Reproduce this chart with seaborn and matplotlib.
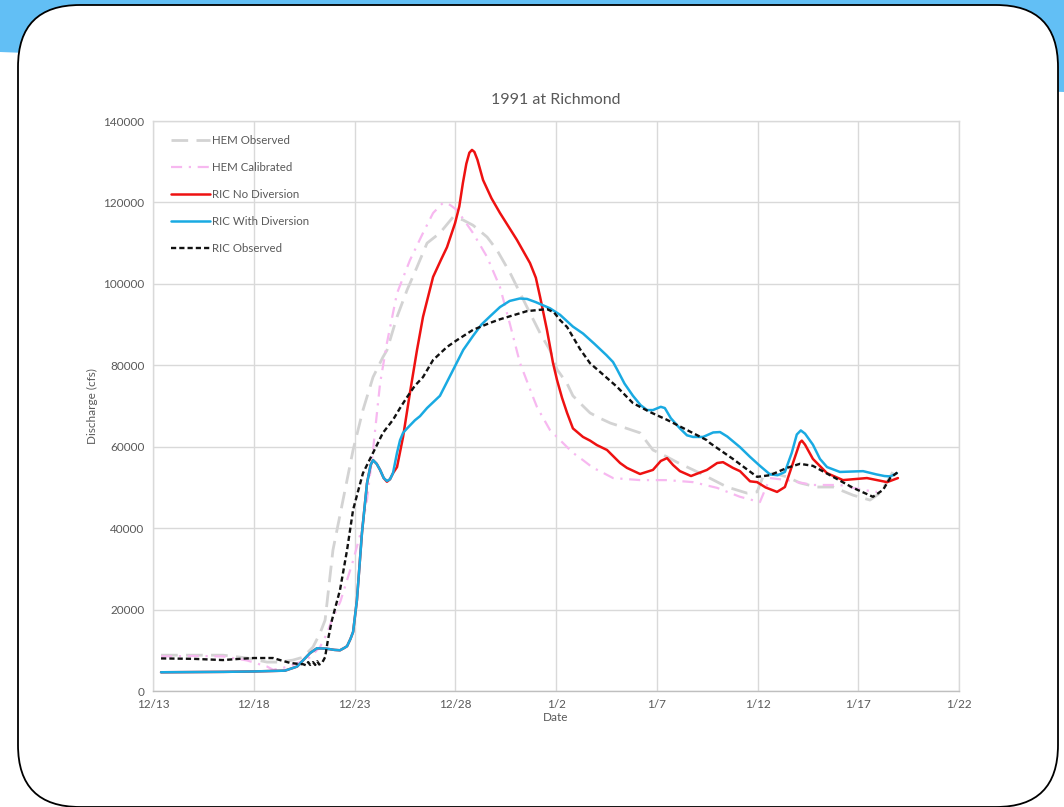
import numpy as np
import pandas as pd
import matplotlib
matplotlib.use("Agg")
import matplotlib.pyplot as plt
import matplotlib.dates as mdates
from matplotlib.patches import FancyBboxPatch, Polygon
from matplotlib.ticker import FuncFormatter, FixedLocator
import seaborn as sns

# ---------------- data (days after 12/13/1990, discharge cfs) ----------------
start_date = "1990-12-13"
x_tick_days = [0, 5, 10, 15, 20, 25, 30, 35, 40]
y_ticks = [0, 20000, 40000, 60000, 80000, 100000, 120000, 140000]

hem_obs_days = [0.40, 2.0, 3.47, 4.0, 4.67, 5.66, 6.3, 6.95, 7.44, 7.94, 8.29, 8.54, 8.93, 9.43, 9.93,
                10.42, 10.92, 11.41, 11.61, 12.11, 12.61, 13.1, 13.6, 14.24, 14.89, 15.38, 15.88, 16.58,
                17.07, 17.72, 18.56, 19.21, 19.7, 20.05, 20.55, 20.84, 21.34, 21.69, 22.18, 22.7, 23.33,
                24.17, 24.81, 25.51, 26.0, 27.15, 28.49, 29.48, 29.98, 30.27, 30.77, 31.46, 32.11, 32.95,
                33.75, 34.74, 35.58, 36.08, 36.58, 36.82]
hem_obs_q = [8800, 8800, 8800, 8500, 8100, 7100, 7100, 7600, 8300, 10800, 14200, 17400, 34600, 46900, 59200,
             69000, 77100, 82000, 83700, 91900, 98500, 104100, 110000, 112500, 116400, 115700, 114400, 111500,
             108300, 102700, 94300, 87900, 83700, 79000, 75500, 72500, 70000, 68300, 67000, 65800, 64800,
             63400, 59200, 57500, 56200, 53500, 50100, 48600, 48900, 52600, 53500, 52600, 51100, 50100,
             50100, 48100, 46900, 48600, 52600, 54800]

hem_cal_days = [0.40, 2.0, 3.47, 4.67, 5.66, 5.96, 6.65, 7.3, 7.79, 8.29, 8.64, 8.88, 9.3, 9.93, 10.37,
                10.62, 10.92, 11.27, 11.61, 12.11, 12.75, 13.4, 13.9, 14.39, 14.74, 15.09, 15.88, 16.58,
                17.22, 17.72, 18.21, 18.86, 19.06, 19.7, 20.55, 20.84, 21.34, 21.84, 22.18, 22.83, 24.17,
                25.51, 26.8, 27.99, 29.13, 30.12, 30.37, 30.62, 31.46, 32.75, 34.09, 35.24, 35.93]
hem_cal_q = [8500, 8600, 8500, 7500, 6000, 5200, 5900, 7100, 8300, 10800, 14200, 17400, 22000, 32000, 40000,
             47000, 59200, 75600, 85500, 97700, 105800, 112500, 117400, 119900, 119400, 118100, 112500, 106600,
             99200, 90000, 80600, 72200, 69700, 64100, 59900, 58500, 56700, 54800, 54000, 52300, 51800,
             51800, 51300, 49900, 47700, 46400, 49400, 52300, 51800, 50600, 50600, 49400, 48900]

ric_nodiv_days = [0.40, 3.5, 5.0, 6.55, 7.15, 7.5, 7.79, 8.14, 8.6, 9.0, 9.28, 9.5, 9.63, 9.8, 9.93, 10.12,
                  10.37, 10.62, 10.8, 10.92, 11.1, 11.27, 11.45, 11.61, 11.76, 11.91, 12.11, 12.41, 12.75,
                  13.1, 13.4, 13.9, 14.3, 14.59, 14.99, 15.2, 15.38, 15.55, 15.7, 15.83, 15.95, 16.1, 16.38,
                  16.8, 17.22, 18.06, 18.71, 19.0, 19.21, 19.55, 19.85, 20.05, 20.3, 20.55, 20.84, 21.34,
                  21.69, 22.03, 22.53, 23.18, 23.52, 24.17, 24.81, 25.2, 25.51, 25.81, 26.15, 26.7, 27.49,
                  28.0, 28.29, 28.78, 29.13, 29.63, 29.98, 30.4, 30.97, 31.36, 31.76, 32.1, 32.2, 32.36, 32.75,
                  33.45, 34.24, 35.43, 36.43, 36.97]
ric_nodiv_q = [4600, 4700, 4800, 5000, 6000, 7800, 9300, 10500, 10400, 10100, 10000, 10600, 11000, 12800, 14500,
               22300, 38800, 51000, 55500, 56700, 55800, 54300, 52300, 51400, 52000, 53500, 55000, 62400, 73200,
               83700, 91900, 101700, 106000, 109000, 114900, 119000, 124800, 129500, 132200, 132900, 132400,
               130500, 125500, 121000, 117400, 110800, 105100, 101500, 96800, 88700, 80600, 76400, 72000, 68300,
               64500, 62400, 61500, 60400, 59200, 56000, 54800, 53300, 54300, 56500, 57200, 55500, 54000, 52800,
               54300, 56000, 56200, 54800, 54000, 51500, 51300, 50000, 48900, 50100, 56000, 61000, 61500, 60500,
               57000, 53500, 51800, 52300, 51300, 52300]

ric_div_days = [0.40, 3.5, 5.0, 6.55, 7.15, 7.5, 7.79, 8.14, 8.6, 9.0, 9.28, 9.5, 9.63, 9.8, 9.93, 10.12,
                10.37, 10.62, 10.8, 10.92, 11.1, 11.27, 11.45, 11.61, 11.76, 11.91, 12.11, 12.26, 12.41, 12.61,
                13.0, 13.25, 13.6, 14.09, 14.24, 14.6, 14.99, 15.4, 15.88, 16.3, 16.72, 17.22, 17.7, 18.2,
                18.56, 19.0, 19.7, 20.2, 20.84, 21.34, 21.9, 22.5, 22.83, 23.03, 23.4, 23.82, 24.2, 24.52,
                24.81, 25.2, 25.4, 25.7, 26.15, 26.5, 26.8, 27.3, 27.8, 28.14, 28.5, 29.13, 29.63, 30.12,
                30.62, 31.0, 31.36, 31.7, 31.95, 32.15, 32.36, 32.75, 33.1, 33.45, 34.09, 35.24, 35.9, 36.3,
                36.6, 36.92]
ric_div_q = [4600, 4700, 4800, 5000, 6000, 7800, 9300, 10500, 10400, 10100, 10000, 10600, 11000, 12800, 14500,
             22300, 38800, 51000, 55500, 56700, 55800, 54300, 52300, 51600, 52000, 53500, 58500, 61600, 63400,
             64500, 66500, 67500, 69500, 71800, 72500, 76000, 79800, 83800, 87200, 90000, 92000, 94300, 95800,
             96400, 96300, 95500, 94000, 92400, 89500, 87800, 85300, 82500, 80800, 79000, 75500, 72500, 70200,
             69000, 69000, 69800, 69500, 67000, 64500, 62800, 62400, 62400, 63500, 63600, 62500, 59900, 57500,
             55300, 53200, 53000, 53800, 58500, 63000, 64000, 63200, 60500, 57000, 55000, 53800, 54000, 53200,
             52800, 52700, 53500]

ric_obs_days = [0.40, 1.99, 3.47, 4.32, 5.0, 5.96, 6.3, 6.8, 7.3, 7.44, 7.6, 7.7, 7.8, 7.94, 8.05, 8.15, 8.25,
                8.39, 8.54, 8.68, 8.88, 9.28, 9.63, 9.93, 10.2, 10.42, 10.92, 11.41, 11.91, 12.26, 12.61, 13.0,
                13.4, 13.9, 14.59, 15.09, 15.88, 16.72, 17.22, 18.56, 19.55, 19.9, 20.2, 20.55, 21.19, 21.69,
                22.18, 23.03, 23.82, 24.67, 25.51, 26.5, 27.49, 27.64, 28.78, 29.98, 30.62, 31.46, 32.11, 32.75,
                33.75, 34.74, 35.73, 36.23, 36.58, 36.97]
ric_obs_q = [8000, 7900, 7600, 7900, 8100, 8100, 7600, 6900, 6600, 6600, 6300, 7100, 6400, 7100, 6400, 7300,
             6500, 6900, 8300, 12500, 17400, 24800, 34600, 44500, 49500, 53500, 58500, 63400, 66600, 69500,
             72200, 75000, 77100, 81300, 84500, 86200, 88700, 90400, 91300, 93300, 93800, 93000, 91100, 89400,
             84000, 80500, 78400, 74700, 70700, 68500, 66600, 64100, 61600, 60900, 57000, 52600, 53000, 54800,
             55800, 55300, 52600, 49900, 47700, 49400, 52300, 53800]

series_names = ["HEM Observed", "HEM Calibrated", "RIC No Diversion", "RIC With Diversion", "RIC Observed"]

# ---------------- figure ----------------
sns.set_theme(style="white")
plt.rcParams["font.family"] = ["Lato", "DejaVu Sans"]

W, H = 1064, 807
fig = plt.figure(figsize=(W / 100, H / 100), dpi=100)
fig.patch.set_facecolor("white")

# slide background: blue band at top, white rounded card
bg = fig.add_axes([0, 0, 1, 1], zorder=-10)
bg.set_xlim(0, W)
bg.set_ylim(H, 0)
bg.axis("off")
bg.add_patch(Polygon([(0, 0), (W, 0), (W, 92), (0, 52)], closed=True, facecolor="#62BFF5", edgecolor="none"))
bg.add_patch(FancyBboxPatch((18 + 62, 5 + 62), 1040 - 124, 802 - 124,
                            boxstyle="round,pad=62", facecolor="white", edgecolor="black", linewidth=1.3))

ax = fig.add_axes([153 / W, 1 - 691 / H, 806 / W, 570 / H])
ax.set_facecolor("white")

base = pd.Timestamp(start_date)


def to_dates(days):
    return base + pd.to_timedelta(np.asarray(days, dtype=float), unit="D")


styles = [
    (hem_obs_days, hem_obs_q, "#D3D3D3", (0, (6, 3)), 2.0),
    (hem_cal_days, hem_cal_q, "#F7B8F0", (0, (5, 3, 1, 3)), 1.6),
    (ric_nodiv_days, ric_nodiv_q, "#EE1111", "-", 1.8),
    (ric_div_days, ric_div_q, "#19AAE2", "-", 1.8),
    (ric_obs_days, ric_obs_q, "#111111", (0, (2.2, 1.3)), 1.7),
]

for name, (d, q, c, ls, lw) in zip(series_names, styles):
    df = pd.DataFrame({"Date": to_dates(d), "Discharge": q})
    sns.lineplot(data=df, x="Date", y="Discharge", ax=ax, color=c, linestyle=ls,
                 linewidth=lw, label=name, sort=False)

# axes formatting
ax.set_xlim(base, base + pd.Timedelta(days=40))
ax.set_ylim(0, 140000)
ax.xaxis.set_major_locator(FixedLocator(mdates.date2num(list(to_dates(x_tick_days)))))
ax.xaxis.set_major_formatter(FuncFormatter(lambda v, p: f"{mdates.num2date(v).month}/{mdates.num2date(v).day}"))
ax.set_yticks(y_ticks)
ax.yaxis.set_major_formatter(FuncFormatter(lambda v, p: f"{int(v)}"))

ax.grid(True, color="#D9D9D9", linewidth=1.0)
ax.set_axisbelow(True)
for s in ["top", "right", "left"]:
    ax.spines[s].set_color("#D9D9D9")
    ax.spines[s].set_linewidth(1.0)
ax.spines["bottom"].set_color("#BFBFBF")
ax.spines["bottom"].set_linewidth(1.0)
ax.tick_params(axis="both", length=0, labelsize=8.5, labelcolor="#595959", pad=6)

ax.set_xlabel("Date", fontsize=8.5, color="#595959", labelpad=1)
ax.set_ylabel("Discharge (cfs)", fontsize=8.5, color="#595959", labelpad=4)
ax.set_title("1991 at Richmond", fontsize=11.5, color="#595959", pad=12)

leg = ax.legend(loc="upper left", frameon=False, fontsize=8.3, labelcolor="#595959",
                handlelength=3.4, handletextpad=0.2, labelspacing=1.4,
                bbox_to_anchor=(0.012, 0.99), borderaxespad=0.3)

fig.savefig("out.png", dpi=100)
